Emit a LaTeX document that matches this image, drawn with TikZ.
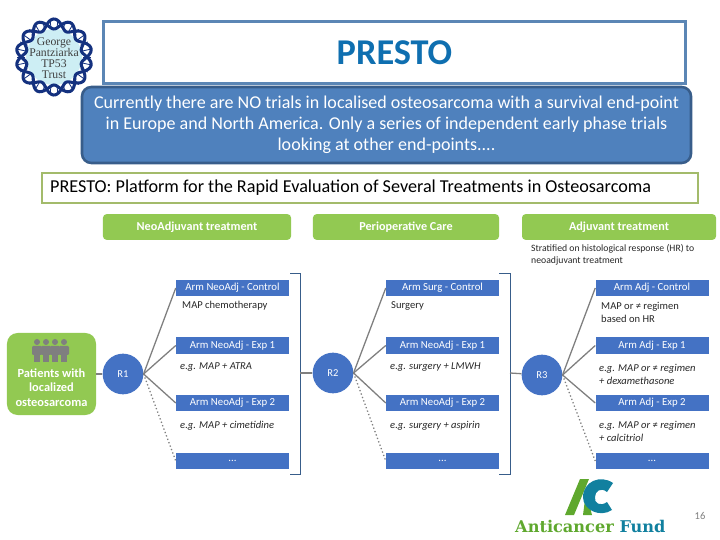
\documentclass[tikz,border=0pt]{standalone}
\usepackage{fontspec}
\setmainfont{Carlito}
\newfontfamily\trustfont{Liberation Serif}
\newfontfamily\logofont{DejaVu Serif}
\usetikzlibrary{positioning}
\definecolor{mBlue}{HTML}{4472C4}
\definecolor{mPanel}{HTML}{4F81BD}
\definecolor{mPanelEdge}{HTML}{385D8A}
\definecolor{mTitleEdge}{HTML}{5B86B5}
\definecolor{mTitle}{HTML}{0F6FB0}
\definecolor{mGreen}{HTML}{92C952}
\definecolor{mOlive}{HTML}{A3BB6B}
\definecolor{mGray}{HTML}{7F7F7F}
\definecolor{mTeal}{HTML}{11809F}
\definecolor{mLogoGreen}{HTML}{5FA82E}
\definecolor{mNavy}{HTML}{14317F}
\definecolor{mIce}{HTML}{CDEEF4}
\tikzset{
  phase/.style={fill=mGreen, rounded corners=3pt, minimum height=0.77cm, inner sep=0pt, text=white, font=\fontsize{10.4}{12}\selectfont\bfseries},
  arm/.style={fill=mBlue, minimum width=3.39cm, minimum height=0.49cm, inner sep=0pt, text=white, font=\fontsize{9.2}{10}\selectfont},
  rand/.style={circle, fill=mBlue, minimum size=1.22cm, inner sep=0pt, text=white, font=\fontsize{9}{10}\selectfont},
  note/.style={anchor=west, align=left, inner sep=0pt, text=black!85, font=\fontsize{9}{11}\selectfont},
  link/.style={mGray, line width=1.1pt},
  bracket/.style={mPanelEdge, line width=0.8pt},
}
\begin{document}
\begin{tikzpicture}[x=0.03cm, y=-0.03cm]
  \useasboundingbox (0,0) rectangle (720,540);
  % logo left
  \fill[mIce] (54,57) circle (0.84cm);
  \foreach \s in {1,-1} {
    \draw[mNavy, line width=2.6pt] plot[domain=0:360, samples=180, smooth] ({54+(33+5*\s*sin(7*\x))*cos(\x)}, {57+(33+5*\s*sin(7*\x))*sin(\x)});
  }
  \foreach \a in {0,12,...,348}
    \draw[mNavy, line width=0.7pt] ({54+29*cos(\a)},{57+29*sin(\a)}) -- ({54+37*cos(\a)},{57+37*sin(\a)});
  \node[align=center, inner sep=0pt, text=black!75, font=\trustfont\fontsize{10}{9.4}\selectfont] (trust) at (54,58) {George\\Pantziarka\\TP53\\Trust};

  % top boxes
  \node[draw=mTitleEdge, line width=2.2pt, fill=white, minimum width=17.46cm, minimum height=1.86cm, inner sep=0pt, text=mTitle, font=\fontsize{31}{33}\selectfont\bfseries] (title) at (394.5,52.5) {PRESTO};
  \node[draw=mPanelEdge, line width=2.2pt, fill=mPanel, rounded corners=8pt, minimum width=18.27cm, minimum height=2.28cm, inner sep=0pt, align=center, text=white, font=\fontsize{15.4}{18}\selectfont] (intro) at (386.5,125) {Currently there are NO trials in localised osteosarcoma with a survival end-point\\in Europe and North America. Only a series of independent early phase trials\\looking at other end-points....};
  \node[draw=mOlive, line width=2.2pt, fill=white, minimum width=19.68cm, minimum height=0.9cm, inner sep=0pt] (platform) at (370,188) {};
  \node[anchor=west, inner sep=0pt, font=\fontsize{15.5}{17}\selectfont] (platformtext) at (50,188) {PRESTO: Platform for the Rapid Evaluation of Several Treatments in Osteosarcoma};

  % phases
  \node[phase, minimum width=5.64cm] (neo) at (197,227) {NeoAdjuvant treatment};
  \node[phase, minimum width=5.58cm] (peri) at (406,227) {Perioperative Care};
  \node[phase, minimum width=5.82cm] (adj) at (619,227) {Adjuvant treatment};
  \node[note, font=\fontsize{8.3}{10.6}\selectfont] (strat) at (531,254.5) {Stratified on histological response (HR) to\\neoadjuvant treatment};

  % patients
  \node[fill=mGreen, rounded corners=9pt, minimum width=2.67cm, minimum height=2.46cm, inner sep=0pt] (patients) at (51.5,374) {};
  \node[align=center, inner sep=0pt, text=white, font=\fontsize{10.6}{12.4}\selectfont\bfseries] (patientstext) at (51.5,387.5) {Patients with\\localized\\osteosarcoma};
  \foreach \x in {37,46,55,64} {
    \fill[mGray] (\x,342) circle (0.09cm);
    \fill[mGray, rounded corners=1pt] (\x-5,346) rectangle (\x+5,355);
    \fill[mGray] (\x-3,353) rectangle (\x+3,362);
  }

  % randomisations
  \node[rand] (rone) at (123,374) {R1};
  \node[rand] (rtwo) at (333,373) {R2};
  \node[rand] (rthree) at (542,375) {R3};

  % arms
  \foreach \name/\cx/\ctrl/\expa/\expb in {
    one/232.5/Arm NeoAdj - Control/Arm NeoAdj - Exp 1/Arm NeoAdj - Exp 2,
    two/442.5/Arm Surg - Control/Arm NeoAdj - Exp 1/Arm NeoAdj - Exp 2,
    three/652/Arm Adj - Control/Arm Adj - Exp 1/Arm Adj - Exp 2} {
    \node[arm] (\name c) at (\cx,288) {\ctrl};
    \node[arm] (\name a) at (\cx,345.5) {\expa};
    \node[arm] (\name b) at (\cx,403) {\expb};
    \node[arm] (\name d) at (\cx,461) {...};
    \draw[link, dotted] (r\name.east) -- (\name d.west);
    \foreach \k in {c,a,b}
      \draw[link] (r\name.east) -- (\name\k.west);
  }

  % notes
  \node[note] (noteonec) at (182,306) {MAP chemotherapy};
  \node[note] (noteonea) at (180,367.5) {\itshape e.g. MAP + ATRA};
  \node[note] (noteoneb) at (180,426) {\itshape e.g. MAP + cimetidine};
  \node[note] (notetwoc) at (391,306) {Surgery};
  \node[note] (notetwoa) at (390,367.5) {\itshape e.g. surgery + LMWH};
  \node[note] (notetwob) at (390,426) {\itshape e.g. surgery + aspirin};
  \node[note] (notethreec) at (601,312) {MAP or ≠ regimen\\based on HR};
  \node[note] (notethreea) at (599,374) {\itshape e.g. MAP or \textup{≠} regimen\\\itshape + dexamethasone};
  \node[note] (notethreeb) at (599,431) {\itshape e.g. MAP or \textup{≠} regimen\\\itshape + calcitriol};

  % brackets
  \coordinate (bktone) at (300,373);
  \coordinate (bkttwo) at (510,373);
  \draw[bracket] (290,273) -- (300,273) -- (300,474) -- (290,474);
  \draw[bracket] (499,273) -- (510,273) -- (510,474) -- (499,474);
  \draw[link] (patients) -- (rone);
  \draw[link] (bktone) -- (rtwo);
  \draw[link] (bkttwo) -- (rthree);

  % logo right
  \fill[mLogoGreen] (565,515) -- (580,479) -- (589,479) -- (574,515) -- cycle;
  \fill[mLogoGreen] (583,515) -- (586,492) -- (592,515) -- cycle;
  \fill[mTeal] (613,483) .. controls (600,474) and (583,482) .. (583,497) .. controls (583,510) and (600,518) .. (612,510) -- (607,502) .. controls (600,507) and (594,503) .. (595,497) .. controls (595,491) and (601,487) .. (607,492) -- cycle;
  \node[inner sep=0pt, anchor=base west, font=\logofont\bfseries\fontsize{13.8}{15}\selectfont] (fund) at (515,532) {\textcolor{mLogoGreen}{Anticancer} \textcolor{mTeal}{Fund}};
  \node[inner sep=0pt, text=mGray, font=\fontsize{9}{10}\selectfont] (page) at (700,516) {16};
\end{tikzpicture}
\end{document}
